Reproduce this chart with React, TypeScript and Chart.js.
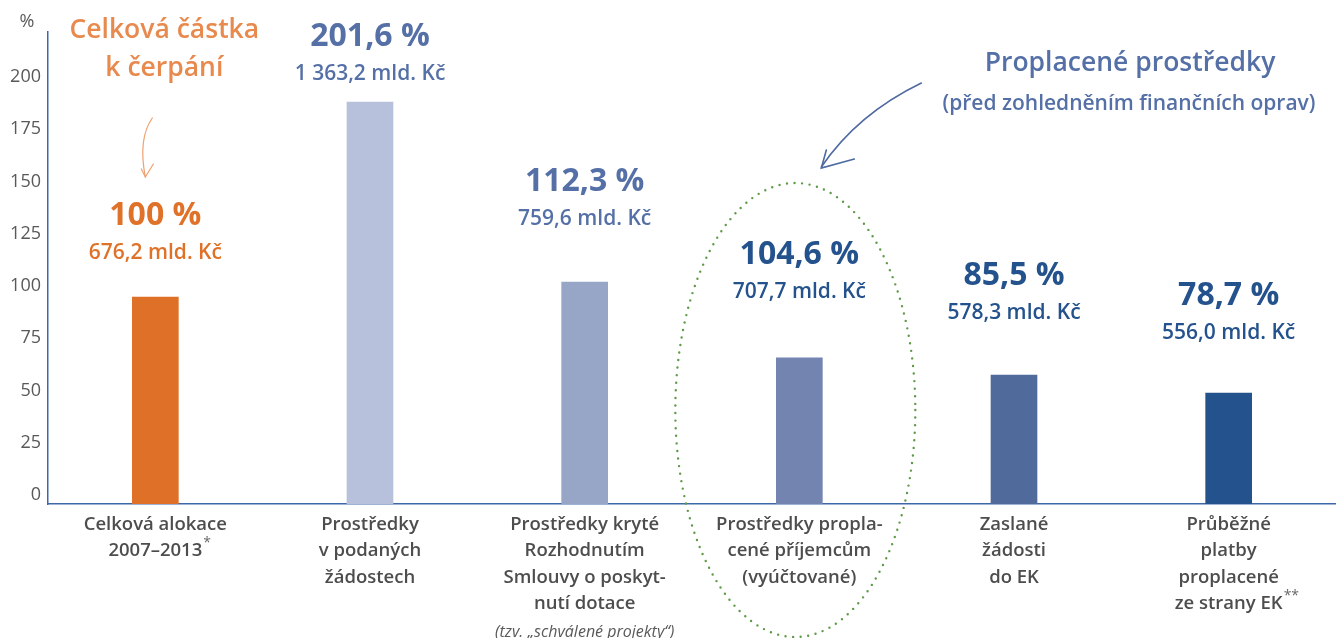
import React, { useEffect, useRef } from "react";
import { Chart, registerables } from "chart.js";

Chart.register(...registerables);

// ---------- data ----------
const categories: string[][] = [
  ["Celková alokace", "2007–2013"],
  ["Prostředky", "v podaných", "žádostech"],
  ["Prostředky kryté", "Rozhodnutím", "Smlouvy o poskyt-", "nutí dotace"],
  ["Prostředky propla-", "cené příjemcům", "(vyúčtované)"],
  ["Zaslané", "žádosti", "do EK"],
  ["Průběžné", "platby", "proplacené", "ze strany EK"],
];
const footnoteMarks = ["*", "", "", "", "", "**"];
const categoryNotes = ["", "", "(tzv. „schválené projekty“)", "", "", ""];
const barValues = [94.7, 188.0, 101.9, 65.6, 57.4, 48.8];
const percentLabels = ["100 %", "201,6 %", "112,3 %", "104,6 %", "85,5 %", "78,7 %"];
const amountLabels = [
  "676,2 mld. Kč",
  "1 363,2 mld. Kč",
  "759,6 mld. Kč",
  "707,7 mld. Kč",
  "578,3 mld. Kč",
  "556,0 mld. Kč",
];
// value-axis level (in %) at which each bar's annotation is centred
const labelLevels = [133.5, 219, 149.8, 114.8, 104.8, 95.2];
const yTicks = [0, 25, 50, 75, 100, 125, 150, 175, 200];
const yMin = -4.3;
const yMax = 221.5;

const barColors = ["#DE7127", "#B8C1DB", "#97A6C6", "#7384B0", "#506A9C", "#24528C"];
const labelColors = ["#DF7128", "#5570A6", "#5570A6", "#24528C", "#24528C", "#24528C"];
const axisColor = "#3C68A8";
const textGrey = "#4D4D4D";
const FONT = "'Open Sans', 'Noto Sans', sans-serif";
const CAT_SIZE = 18.5;
const CAT_LH = 26.5;
const CAT_PAD = 7;

const annotationPlugin = {
  id: "annotations",
  afterDraw(chart: any) {
    const { ctx, scales } = chart;
    const x = scales.x;
    const y = scales.y;
    ctx.save();
    ctx.textAlign = "center";
    ctx.textBaseline = "middle";

    // unit
    ctx.fillStyle = "#595959";
    ctx.font = `18px ${FONT}`;
    ctx.fillText("%", 27, 22);

    // value labels
    for (let i = 0; i < barValues.length; i++) {
      const cx = x.getPixelForValue(i);
      const cy = y.getPixelForValue(labelLevels[i]);
      ctx.fillStyle = labelColors[i];
      ctx.font = `700 32px ${FONT}`;
      ctx.fillText(percentLabels[i], cx, cy);
      ctx.font = `600 21px ${FONT}`;
      ctx.fillText(amountLabels[i], cx, cy + 37);
    }

    // footnote marks and notes under category labels
    const firstLine = x.top + CAT_PAD + CAT_LH / 2;
    for (let i = 0; i < categories.length; i++) {
      const cx = x.getPixelForValue(i);
      const lines = categories[i];
      if (footnoteMarks[i]) {
        ctx.font = `600 ${CAT_SIZE}px ${FONT}`;
        const last = lines[lines.length - 1];
        const w = ctx.measureText(last).width;
        ctx.font = `14px ${FONT}`;
        ctx.fillStyle = "#6A6A6A";
        ctx.textAlign = "left";
        ctx.fillText(footnoteMarks[i], cx + w / 2 + 1, firstLine + (lines.length - 1) * CAT_LH - 8);
        ctx.textAlign = "center";
      }
      if (categoryNotes[i]) {
        ctx.font = `italic 16px ${FONT}`;
        ctx.fillStyle = "#595959";
        ctx.fillText(categoryNotes[i], cx, firstLine + lines.length * CAT_LH + 2);
      }
    }

    // "Celková částka k čerpání" heading + arrow
    const c0 = x.getPixelForValue(0);
    ctx.fillStyle = "#E8894E";
    ctx.font = `600 26.5px ${FONT}`;
    ctx.fillText("Celková částka", c0 + 9, 30);
    ctx.fillText("k čerpání", c0 + 9, 68);

    ctx.strokeStyle = "#F0A070";
    ctx.lineWidth = 1.2;
    ctx.lineCap = "round";
    ctx.beginPath();
    ctx.moveTo(c0 - 3, 118);
    ctx.quadraticCurveTo(c0 - 17.5, 138.5, c0 - 10, 177);
    ctx.stroke();
    ctx.beginPath();
    ctx.moveTo(c0 - 14, 169);
    ctx.lineTo(c0 - 10, 177);
    ctx.lineTo(c0 - 2, 164);
    ctx.stroke();

    // dotted ellipse around the reimbursed bar
    const c3 = x.getPixelForValue(3);
    ctx.strokeStyle = "#5E9A47";
    ctx.lineWidth = 2.4;
    ctx.lineCap = "round";
    ctx.setLineDash([0, 7.6]);
    ctx.beginPath();
    ctx.ellipse(c3 - 4, 410, 120, 227, 0, 0, Math.PI * 2);
    ctx.stroke();
    ctx.setLineDash([]);

    // "Proplacené prostředky" heading + arrow
    ctx.fillStyle = "#5570A6";
    ctx.font = `600 26.5px ${FONT}`;
    ctx.fillText("Proplacené prostředky", 1130, 63);
    ctx.font = `600 21px ${FONT}`;
    ctx.fillText("(před zohledněním finančních oprav)", 1129, 104);

    const dx = c3 - 775;
    ctx.strokeStyle = "#4F6AA0";
    ctx.lineWidth = 1.6;
    ctx.beginPath();
    ctx.moveTo(897 + dx, 83);
    ctx.quadraticCurveTo(833 + dx, 114, 797 + dx, 167);
    ctx.stroke();
    ctx.beginPath();
    ctx.moveTo(802 + dx, 150);
    ctx.lineTo(797 + dx, 168);
    ctx.lineTo(830 + dx, 159);
    ctx.stroke();

    ctx.restore();
  },
};

export default function App() {
  const canvasRef = useRef<HTMLCanvasElement | null>(null);

  useEffect(() => {
    document.body.style.margin = "0";
    const canvas = canvasRef.current;
    if (!canvas) return;
    const chart = new Chart(canvas, {
      type: "bar",
      data: {
        labels: categories,
        datasets: [
          {
            data: barValues,
            backgroundColor: barColors,
            borderWidth: 0,
            barThickness: 46,
            base: yMin,
          } as any,
        ],
      },
      options: {
        responsive: false,
        animation: false,
        devicePixelRatio: 1,
        layout: { padding: { top: 32, left: 0, right: 0, bottom: 0 } },
        plugins: {
          legend: { display: false },
          tooltip: { enabled: false },
          title: { display: false },
        },
        scales: {
          x: {
            type: "category",
            grid: { display: false, drawTicks: false },
            border: { display: true, color: axisColor, width: 1.5 },
            ticks: {
              autoSkip: false,
              maxRotation: 0,
              minRotation: 0,
              padding: CAT_PAD,
              color: textGrey,
              font: { family: FONT, size: CAT_SIZE, weight: "600", lineHeight: `${CAT_LH}px` } as any,
            },
            afterFit(scale: any) {
              scale.height = 134;
            },
          },
          y: {
            min: yMin,
            max: yMax,
            grid: { display: false, drawTicks: false },
            border: { display: true, color: axisColor, width: 1.5 },
            afterBuildTicks(scale: any) {
              scale.ticks = yTicks.map((v) => ({ value: v }));
            },
            ticks: {
              padding: 7,
              color: "#595959",
              font: { family: FONT, size: 18 },
              callback: (v: any) => String(v),
            },
            afterFit(scale: any) {
              scale.width = 48;
            },
          },
        },
      },
      plugins: [annotationPlugin],
    });
    return () => chart.destroy();
  }, []);

  return (
    <div style={{ position: "fixed", left: 0, top: 0, width: 1336, height: 638, background: "#fff" }}>
      <canvas ref={canvasRef} width={1336} height={638} style={{ display: "block" }} />
    </div>
  );
}
